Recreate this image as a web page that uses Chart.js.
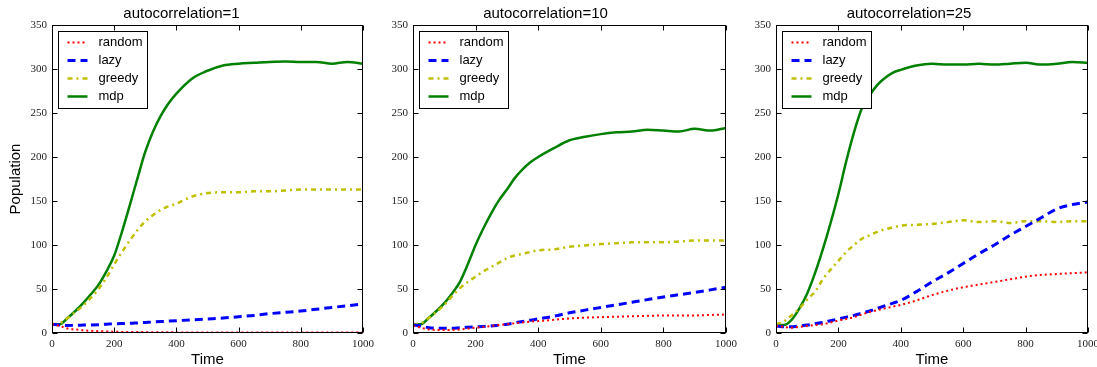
<!DOCTYPE html>
<html>
<head>
<meta charset="utf-8">
<script src="https://cdn.jsdelivr.net/npm/chart.js@4/dist/chart.umd.min.js"></script>
<style>
  body { margin: 0; background: #fff; }
  #wrap { position: relative; width: 1097px; height: 367px; overflow: hidden; }
  .panel { position: absolute; top: 0; height: 367px; }
</style>
</head>
<body>
<div id="wrap">
  <div class="panel" style="left:0px;width:380px"><canvas id="c1"></canvas></div>
  <div class="panel" style="left:365px;width:378px"><canvas id="c2"></canvas></div>
  <div class="panel" style="left:730px;width:367px"><canvas id="c3"></canvas></div>
</div>
<script>
const times = [0, 25, 50, 75, 100, 125, 150, 175, 200, 225, 250, 275, 300, 325, 350, 375, 400,
  450, 500, 550, 600, 650, 700, 750, 800, 850, 900, 950, 1000];
const seriesNames = ["random", "lazy", "greedy", "mdp"];
const xTicks = [0, 200, 400, 600, 800, 1000];
const yTicks = [0, 50, 100, 150, 200, 250, 300, 350];

// autocorrelation=1
const random1 = [10, 8, 5, 4, 3, 2.5, 2, 1.8, 1.5, 1.2, 1, 1, 1, 0.9, 0.8, 0.75, 0.7,
  0.6, 0.5, 0.5, 0.5, 0.5, 0.5, 0.5, 0.5, 0.5, 0.5, 0.5, 0.5];
const lazy1 = [10, 9, 8.5, 8.8, 9, 9.2, 9.5, 10, 10.5, 10.8, 11, 11.5, 12, 12.5, 13, 13.5, 14,
  15, 16, 17, 18.5, 20, 22, 23.5, 25, 27, 29, 31, 33];
const greedy1 = [10, 11, 17, 24, 31, 40, 50, 63, 78, 92, 105, 117, 127, 134, 140, 144, 147,
  155, 159, 160, 160, 161, 161, 162, 163, 163, 163, 163, 163];
const mdp1 = [10, 10, 17, 25, 34, 44, 55, 70, 88, 115, 145, 176, 206, 229, 247, 261, 272,
  289, 298, 304, 306, 307, 308, 308.5, 308, 308, 306, 308, 306];

// autocorrelation=10
const random2 = [8, 6, 4, 3.5, 3.5, 3.5, 4, 5, 6, 7, 8, 9, 10, 11, 12, 13, 13.5,
  15, 16.5, 17.5, 18, 18.5, 19, 19.5, 20, 20, 20, 20.5, 21];
const lazy2 = [9, 8, 6, 5.5, 5.5, 5.5, 6, 6.5, 7, 7.5, 8, 9, 10, 11.5, 13, 14.5, 16,
  19, 23, 26, 29, 32, 35, 38, 41, 43.5, 46, 49, 52];
const greedy2 = [10, 11, 17, 24, 32, 42, 51, 58, 64, 70, 75, 80, 85, 88, 90, 92, 94,
  95, 98, 99.5, 101, 102, 103, 103, 103, 104, 105, 105, 105];
const mdp2 = [10, 10, 17, 25, 34, 45, 58, 78, 100, 119, 136, 151, 163, 176, 186, 194, 200,
  210, 219, 223, 226, 228, 229, 231, 230, 229, 232, 230, 233];

// autocorrelation=25
const random3 = [8, 7, 6, 7, 8, 9, 10, 12, 14, 16, 18, 21, 24, 26, 28, 30, 32,
  37, 43, 48, 52, 55, 58, 61, 64, 66, 67, 68, 69];
const lazy3 = [8, 7, 7, 8, 9, 10.5, 12, 14, 16, 18, 20, 22.5, 25, 28, 31, 34, 37,
  47, 58, 68, 79, 90, 100, 111, 121, 131, 141, 146, 149];
const greedy3 = [10, 13, 20, 28, 38, 47, 61, 72, 82, 92, 100, 107, 111, 115, 118, 120, 122,
  123, 124, 126, 128, 126, 127, 125, 127, 127, 126, 127, 127];
const mdp3 = [10, 9, 15, 28, 45, 68, 95, 125, 158, 195, 228, 255, 270, 282, 290, 296, 299,
  304, 306, 305, 305, 306, 305, 306, 307, 305, 306, 308, 307];

const styles = [
  { color: "#ff0000", width: 2, dash: [2, 3] },
  { color: "#0000ff", width: 3, dash: [8, 5] },
  { color: "#bfbf00", width: 2.5, dash: [5, 4, 2, 4] },
  { color: "#008000", width: 2.5, dash: [] }
];

const sans = "'Liberation Sans', Arial, sans-serif";
const serif = "'Liberation Serif', 'Times New Roman', serif";

// frame with inward ticks on all four sides, plus the legend box inside the plot
const framePlugin = {
  id: "frame",
  afterDatasetsDraw(chart) {
    const ctx = chart.ctx;
    const a = chart.chartArea;
    const l = Math.round(a.left) + 0.5, r = Math.round(a.right) - 0.5;
    const t = Math.round(a.top) + 0.5, b = Math.round(a.bottom) - 0.5;
    ctx.save();
    ctx.strokeStyle = "#000";
    ctx.lineWidth = 1;
    ctx.setLineDash([]);
    ctx.strokeRect(l, t, r - l, b - t);
    ctx.beginPath();
    xTicks.forEach(v => {
      const x = Math.round(chart.scales.x.getPixelForValue(v)) + 0.5;
      ctx.moveTo(x, b); ctx.lineTo(x, b - 5);
      ctx.moveTo(x, t); ctx.lineTo(x, t + 5);
    });
    yTicks.forEach(v => {
      const y = Math.round(chart.scales.y.getPixelForValue(v)) + 0.5;
      ctx.moveTo(l, y); ctx.lineTo(l + 5, y);
      ctx.moveTo(r, y); ctx.lineTo(r - 5, y);
    });
    ctx.stroke();

    // legend
    const x0 = Math.round(a.left) + 6.5, y0 = Math.round(a.top) + 6.5;
    ctx.fillStyle = "#fff";
    ctx.fillRect(x0, y0, 89, 77);
    ctx.strokeStyle = "#000";
    ctx.strokeRect(x0, y0, 89, 77);
    chart.data.datasets.forEach((ds, i) => {
      const y = y0 + 11 + 18 * i;
      ctx.beginPath();
      ctx.strokeStyle = ds.borderColor;
      ctx.lineWidth = ds.borderWidth;
      ctx.setLineDash(ds.borderDash);
      ctx.moveTo(x0 + 9, y);
      ctx.lineTo(x0 + 29, y);
      ctx.stroke();
      ctx.setLineDash([]);
      ctx.fillStyle = "#000";
      ctx.font = "13px " + sans;
      ctx.textBaseline = "middle";
      ctx.textAlign = "left";
      ctx.fillText(ds.label, x0 + 40, y);
    });
    ctx.restore();
  }
};

function makeChart(id, title, seriesList, yWidth, padRight, showYTitle) {
  new Chart(document.getElementById(id), {
    type: "line",
    data: {
      labels: times,
      datasets: seriesList.map((vals, i) => ({
        label: seriesNames[i],
        data: times.map((t, j) => ({ x: t, y: vals[j] })),
        borderColor: styles[i].color,
        borderWidth: styles[i].width,
        borderDash: styles[i].dash,
        pointRadius: 0,
        fill: false,
        cubicInterpolationMode: "monotone"
      }))
    },
    options: {
      responsive: true,
      maintainAspectRatio: false,
      animation: false,
      devicePixelRatio: 1,
      layout: { padding: { top: 0, left: 0, bottom: 0, right: padRight } },
      plugins: {
        legend: { display: false },
        tooltip: { enabled: false },
        title: {
          display: true,
          text: title,
          color: "#000",
          font: { family: sans, size: 15, weight: "normal", lineHeight: 1.2 },
          padding: { top: 5, bottom: 2 }
        }
      },
      scales: {
        x: {
          type: "linear",
          min: 0,
          max: 1000,
          grid: { display: false, drawTicks: false },
          border: { display: false },
          ticks: {
            stepSize: 200,
            padding: 5,
            maxRotation: 0,
            color: "#222",
            font: { family: serif, size: 11 },
            callback: v => String(v)
          },
          title: {
            display: true,
            text: "Time",
            color: "#000",
            font: { family: sans, size: 15, lineHeight: 1 },
            padding: { top: 0, bottom: 0 }
          },
          afterFit: s => { s.height = 34; s.paddingLeft = 0; s.paddingRight = 0; }
        },
        y: {
          min: 0,
          max: 350,
          grid: { display: false, drawTicks: false },
          border: { display: false },
          ticks: {
            stepSize: 50,
            padding: 5,
            color: "#222",
            font: { family: serif, size: 11 },
            callback: v => String(v)
          },
          title: {
            display: showYTitle,
            text: "Population",
            color: "#000",
            font: { family: sans, size: 15, lineHeight: 1 },
            padding: { top: 8, bottom: 0 }
          },
          afterFit: s => { s.width = yWidth; s.paddingTop = 0; s.paddingBottom = 0; }
        }
      }
    },
    plugins: [framePlugin]
  });
}

makeChart("c1", "autocorrelation=1", [random1, lazy1, greedy1, mdp1], 52, 17, true);
makeChart("c2", "autocorrelation=10", [random2, lazy2, greedy2, mdp2], 48, 17, false);
makeChart("c3", "autocorrelation=25", [random3, lazy3, greedy3, mdp3], 46, 9, false);
</script>
</body>
</html>
